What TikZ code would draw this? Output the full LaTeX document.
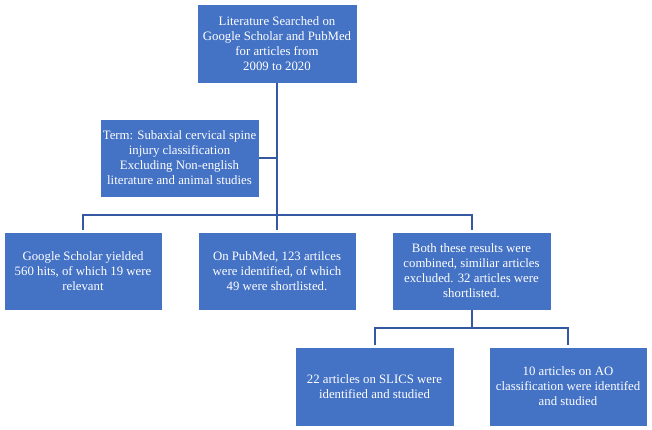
\documentclass[tikz,border=0pt]{standalone}
\usepackage{fontspec}
\setmainfont{Liberation Serif}
\definecolor{boxblue}{HTML}{4472C4}
\definecolor{linkblue}{HTML}{3558A3}
\begin{document}
\begin{tikzpicture}[x=1pt,y=-1pt,
  box/.style={rectangle, fill=boxblue, draw=white, line width=0.6pt, text=white,
    align=center, inner sep=0pt, font=\fontsize{12.8}{15}\selectfont},
  link/.style={draw=linkblue, line width=2pt}]
\useasboundingbox (0,0) rectangle (652,430);
\node[box, minimum width=160, minimum height=79] (top) at (277,43.5)
  {Literature Searched on\\Google Scholar and PubMed\\for articles from\\2009 to 2020};
\node[box, minimum width=159, minimum height=78] (term) at (179.5,158)
  {Term: Subaxial cervical spine\\injury classification\\Excluding Non-english\\literature and animal studies};
\node[box, minimum width=158, minimum height=78] (gs) at (83,271)
  {Google Scholar yielded\\560 hits, of which 19 were\\relevant};
\node[box, minimum width=158, minimum height=78] (pm) at (277,271)
  {On PubMed, 123 artilces\\were identified, of which\\49 were shortlisted.};
\node[box, minimum width=159, minimum height=78] (comb) at (471.5,271)
  {Both these results were\\combined, similiar articles\\excluded. 32 articles were\\shortlisted.};
\node[box, minimum width=159, minimum height=79] (slics) at (374.5,386.5)
  {22 articles on SLICS were\\identified and studied};
\node[box, minimum width=158, minimum height=79] (ao) at (568,386.5)
  {10 articles on AO\\classification were identifed\\and studied};
\coordinate (j1) at (277,215);
\coordinate (j2) at (471.5,328);
\draw[link] (top.south) -- ([yshift=2pt]pm.north);
\draw[link] (term.east) -- (term.east -| top.south);
\draw[link] ([yshift=2pt]gs.north) |- (j1) -| ([yshift=2pt]comb.north);
\draw[link] (comb.south) -- (j2);
\draw[link] ([yshift=2pt]slics.north) |- (j2) -| ([yshift=2pt]ao.north);
\end{tikzpicture}
\end{document}
